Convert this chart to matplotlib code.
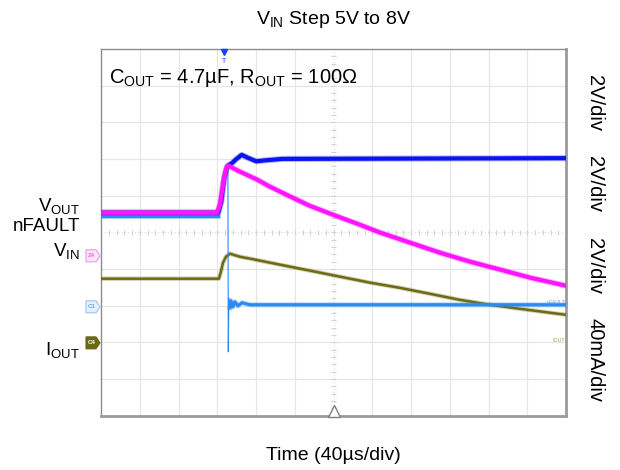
import matplotlib
matplotlib.use("Agg")
import matplotlib.pyplot as plt
from matplotlib.patches import Polygon
from matplotlib.collections import LineCollection
from matplotlib.transforms import blended_transform_factory

plt.rcParams['font.family'] = ['Liberation Sans', 'DejaVu Sans']
plt.rcParams['mathtext.fontset'] = 'custom'
plt.rcParams['mathtext.rm'] = 'Liberation Sans'
plt.rcParams['mathtext.it'] = 'Liberation Sans:italic'

# ---- scope timebase (µs, relative to trigger) ----
TIME_PER_DIV = 40
N_XDIV, N_YDIV = 12, 10
T_START = -127.2

# ---- waveforms ----
vin_t = [-127, -6, -3, 0, 3, 5, 8, 12, 18, 24, 33, 42, 60, 353]
vin_v = [5.0, 5.0, 5.6, 6.9, 7.5, 7.6, 7.7, 7.9, 8.15, 8.0, 7.8, 7.85, 7.93, 7.97]

vout_t = [-127, -7.5, -4.4, -1.3, 1.8, 3.8, 16, 34, 47, 68, 88, 112, 140, 161,
          192, 223, 254, 285, 316, 353]
vout_v = [5.0, 5.0, 5.44, 6.53, 7.35, 7.57, 7.24, 6.80, 6.42, 5.88, 5.38, 4.89,
          4.34, 3.91, 3.36, 2.81, 2.32, 1.89, 1.45, 1.01]

nfault_t = [-127, -6.5, -3.4, -0.3, 2.8, 3.8, 4.2, 4.8, 5.9, 6.9, 9.0, 11.0,
            14.1, 18.3, 26.5, 353]
nfault_v = [4.97, 4.97, 5.52, 6.50, 7.27, 7.43, -2.46, 0.49, -0.05, 0.33, 0.0,
            0.27, 0.05, 0.22, 0.11, 0.11]

iout_t = [-127, -5.5, -3.4, -1.3, 1.8, 5.9, 16, 27, 58, 89, 120, 151, 181, 212,
          243, 274, 305, 353]
iout_ma = [70, 70, 77.6, 87.4, 94.0, 97.3, 94.0, 91.8, 85.2, 78.7, 72.1, 65.6,
           60.1, 53.6, 47.0, 41.6, 37.2, 30.6]

# ---- channel settings: (units/div, ground level in div from bottom) ----
V_SCALE, V_GND = 2.0, 3.038
NF_SCALE, NF_GND = 2.0, 2.970
I_SCALE, I_GND = 40.0, 1.986
REF_GND = 4.36

left_labels = ['V$_{\\mathrm{OUT}}$', 'nFAULT', 'V$_{\\mathrm{IN}}$', 'I$_{\\mathrm{OUT}}$']
right_labels = ['2V/div', '2V/div', '2V/div', '40mA/div']

C_MAG = '#ff14ff'
C_BLUE = '#0a14f0'
C_CYAN = '#2a8cf0'
C_OLIVE = '#6e6a12'

W, H = 620, 470
fig = plt.figure(figsize=(W / 100, H / 100), dpi=100)


def fx(x):
    return x / W


def fy(y):
    return 1 - y / H


rect = [fx(101), fy(415.7), (566 - 101) / W, (415.7 - 49) / H]

# ---- graticule ----
gax = fig.add_axes(rect)
gax.set_xlim(0, N_XDIV)
gax.set_ylim(0, N_YDIV)
gax.set_xticks([])
gax.set_yticks([])
for s in gax.spines.values():
    s.set_color('#8c8c8c')
    s.set_linewidth(1.0)
gax.spines['bottom'].set_linewidth(2.0)
gax.spines['right'].set_linewidth(2.0)
gax.spines['bottom'].set_color('#9a9a9a')
gax.spines['right'].set_color('#9a9a9a')

for k in range(1, N_XDIV):
    if k == N_XDIV // 2:
        gax.axvline(k, color='#dadada', lw=0.8, ls=(0, (1, 2)), zorder=0)
    else:
        gax.axvline(k, color='#e6e6e6', lw=0.9, zorder=0)
for k in range(1, N_YDIV):
    if k == N_YDIV // 2:
        gax.axhline(k, color='#dadada', lw=0.8, ls=(0, (1, 2)), zorder=0)
    else:
        gax.axhline(k, color='#e6e6e6', lw=0.9, zorder=0)

segs = []
for i in range(1, N_XDIV * 5):
    x = i / 5
    segs.append([(x, N_YDIV / 2 - 0.06), (x, N_YDIV / 2 + 0.06)])
for i in range(1, N_YDIV * 5):
    y = i / 5
    segs.append([(N_XDIV / 2 - 0.055, y), (N_XDIV / 2 + 0.055, y)])
gax.add_collection(LineCollection(segs, colors='#d2d2d2', linewidths=0.8, zorder=0))

# center marker at bottom
gax.plot([N_XDIV / 2], [0.13], marker='^', ms=8, mfc='white', mec='#808080',
         mew=1.0, clip_on=False, zorder=5)


def channel_axes(name, scale, gnd):
    ax = fig.add_axes(rect, label=name)
    ax.set_xlim(T_START, T_START + TIME_PER_DIV * N_XDIV)
    ax.set_ylim(-gnd * scale, (N_YDIV - gnd) * scale)
    ax.axis('off')
    ax.patch.set_alpha(0)
    return ax


def trace(ax, t, v, color, lw):
    # soft persistence halo under the trace
    ax.plot(t, v, color=color, lw=lw + 1.4, alpha=0.3, solid_joinstyle='round')
    ax.plot(t, v, color=color, lw=lw, solid_joinstyle='round')


ax_i = channel_axes('iout', I_SCALE, I_GND)
trace(ax_i, iout_t, iout_ma, C_OLIVE, 1.8)

ax_nf = channel_axes('nfault', NF_SCALE, NF_GND)
trace(ax_nf, nfault_t[:2], nfault_v[:2], C_CYAN, 2.3)
ax_nf.plot(nfault_t[1:9], nfault_v[1:9], color=C_CYAN, lw=0.8)
trace(ax_nf, nfault_t[8:], nfault_v[8:], C_CYAN, 2.3)

ax_v = channel_axes('volts', V_SCALE, V_GND)
trace(ax_v, vin_t, vin_v, C_BLUE, 3.0)
trace(ax_v, vout_t, vout_v, C_MAG, 3.0)

# trigger marker
trig = blended_transform_factory(ax_v.transData, ax_v.transAxes)
ax_v.plot([0], [0.993], marker='v', ms=4, color='#1a3cff', transform=trig,
          clip_on=False)
ax_v.text(0, 0.975, 'T', transform=trig, ha='center', va='top', fontsize=5,
          color='#1a3cff')

# small trace labels at right edge
fig.text(fx(556), fy(302), 'nFAULT', fontsize=3.8, color='#5aa0f0',
         ha='center', va='center')
fig.text(fx(559), fy(341), 'IOUT', fontsize=3.8, color='#b0a060',
         ha='center', va='center')

# channel ground tags on the left edge


def tag(yc, face, edge, txt, tcol):
    x0, x1, h = 86, 100, 6
    pts = [(fx(x0), fy(yc - h)), (fx(x1 - 4), fy(yc - h)), (fx(x1), fy(yc)),
           (fx(x1 - 4), fy(yc + h)), (fx(x0), fy(yc + h))]
    fig.patches.append(Polygon(pts, closed=True, facecolor=face, edgecolor=edge,
                               lw=0.8, transform=fig.transFigure))
    fig.text(fx(91.5), fy(yc), txt, fontsize=4.5, color=tcol, ha='center',
             va='center', fontweight='bold')


def div_to_px(d):
    return 415.7 - d * (415.7 - 49) / N_YDIV


tag(div_to_px(REF_GND), '#fbe6fb', '#e59ae5', 'Z4', '#e070e0')
tag(div_to_px(NF_GND), '#e6f0ff', '#9ec2f2', 'C1', '#7aa8ea')
tag(div_to_px(I_GND), '#6b6a12', '#6b6a12', 'C4', 'white')

# ---- texts ----
fig.text(fx(333.5), fy(20), 'V$_{\\mathrm{IN}}$ Step 5V to 8V', ha='center',
         va='center', fontsize=14)
fig.text(fx(333.5), fy(455), 'Time (40µs/div)', ha='center', va='center',
         fontsize=14)
fig.text(fx(109), fy(83), 'C$_{\\mathrm{OUT}}$ = 4.7µF, R$_{\\mathrm{OUT}}$ = 100Ω',
         ha='left', va='baseline', fontsize=14.5)

for lbl, yb in zip(left_labels, [210.7, 231, 256, 355]):
    fig.text(fx(80), fy(yb), lbl, ha='right', va='baseline', fontsize=13.5)

for lbl, yc in zip(right_labels, [103, 184, 266, 360]):
    fig.text(fx(595), fy(yc), lbl, ha='center', va='center', fontsize=14.5,
             rotation=270)

fig.savefig('out.png', dpi=100)
